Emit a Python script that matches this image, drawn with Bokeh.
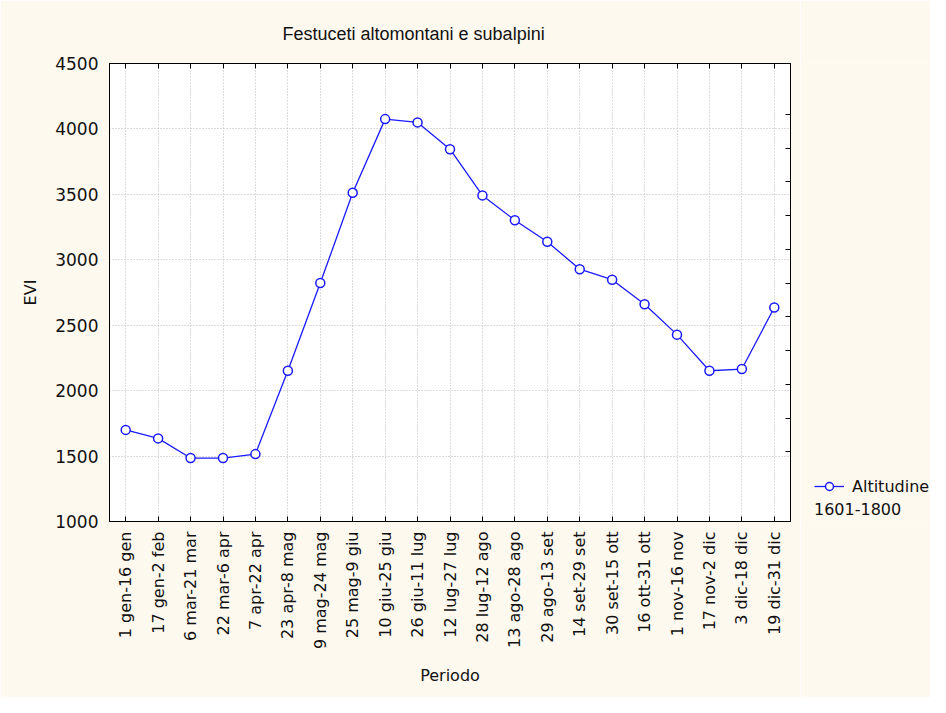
import math
from bokeh.plotting import figure
from bokeh.layouts import row
from bokeh.models import (ColumnDataSource, CategoricalAxis, LinearAxis, Range1d, FactorRange,
                          FixedTicker, Legend, LegendItem, Title, CustomJSTickFormatter)
from bokeh.embed import file_html
from bokeh.resources import INLINE

periods = ["1 gen-16 gen", "17 gen-2 feb", "6 mar-21 mar", "22 mar-6 apr", "7 apr-22 apr",
           "23 apr-8 mag", "9 mag-24 mag", "25 mag-9 giu", "10 giu-25 giu", "26 giu-11 lug",
           "12 lug-27 lug", "28 lug-12 ago", "13 ago-28 ago", "29 ago-13 set", "14 set-29 set",
           "30 set-15 ott", "16 ott-31 ott", "1 nov-16 nov", "17 nov-2 dic", "3 dic-18 dic",
           "19 dic-31 dic"]
evi = [1700, 1635, 1485, 1485, 1515, 2152, 2822, 3512, 4075, 4050, 3845, 3492, 3302,
       3138, 2928, 2848, 2660, 2428, 2152, 2165, 2635]
y_ticks = [1000, 1500, 2000, 2500, 3000, 3500, 4000, 4500]
right_ticks = [2, 3, 4, 5, 6, 7, 8, 9, 10, 11, 12]
series_label = "Altitudine"
series_sub = "1601-1800"
title_text = "Festuceti altomontani e subalpini"

FONT = "DejaVu Sans"
TFONT = "Liberation Sans"
BG = "#fef9ef"
BLUE = "#1a1aff"
TXT = "#111111"

src = ColumnDataSource(data=dict(x=periods, y=evi))
blank = CustomJSTickFormatter(code="return ''")

p = figure(width=800, height=697, x_range=periods, y_range=Range1d(1000, 4500),
           output_backend="svg", toolbar_location=None,
           min_border_left=109, min_border_right=10, min_border_top=63,
           min_border_bottom=176)
p.background_fill_color = "white"
p.border_fill_color = BG
p.outline_line_color = "black"
p.outline_line_width = 1

# title
p.title = Title(text=title_text, align="left", offset=173, text_font=TFONT,
                text_font_size="18px", text_font_style="normal", text_color=TXT,
                standoff=40)

# x axis (bottom)
xa = p.xaxis[0]
xa.major_label_orientation = math.pi / 2
xa.major_label_text_font = FONT
xa.major_label_text_font_size = "16px"
xa.major_label_text_color = TXT
xa.major_tick_in = 5
xa.major_tick_out = 0
xa.major_label_standoff = 10
xa.axis_line_color = "black"
xa.major_tick_line_color = "black"
xa.axis_label = "Periodo"
xa.axis_label_text_font = FONT
xa.axis_label_text_font_size = "16px"
xa.axis_label_text_font_style = "normal"
xa.axis_label_text_color = TXT
xa.axis_label_standoff = 14

# y axis (left)
ya = p.yaxis[0]
ya.ticker = FixedTicker(ticks=y_ticks)
ya.major_label_text_font = FONT
ya.major_label_text_font_size = "17px"
ya.major_label_text_color = TXT
ya.major_tick_in = 0
ya.major_tick_out = 0
ya.minor_tick_in = 0
ya.minor_tick_out = 0
ya.major_label_standoff = 11
ya.axis_label = "EVI"
ya.axis_label_text_font = FONT
ya.axis_label_text_font_size = "16px"
ya.axis_label_text_font_style = "normal"
ya.axis_label_text_color = TXT
ya.axis_label_standoff = 12

# top axis with inward ticks
ta = CategoricalAxis(major_tick_in=5, major_tick_out=0, formatter=blank,
                     major_label_standoff=0, axis_line_color="black",
                     major_tick_line_color="black")
p.add_layout(ta, "above")

# right axis with its own ticks
p.extra_y_ranges = {"r": Range1d(-0.06, 13.51)}
ra = LinearAxis(y_range_name="r", ticker=FixedTicker(ticks=right_ticks),
                major_tick_in=5, major_tick_out=0, minor_tick_in=0, minor_tick_out=0,
                formatter=blank, major_label_standoff=0,
                axis_line_color="black", major_tick_line_color="black")
p.add_layout(ra, "right")

# grid
p.xgrid.grid_line_color = "#b8b8b8"
p.xgrid.grid_line_dash = "1 2"
p.ygrid.grid_line_color = "#b8b8b8"
p.ygrid.grid_line_dash = "1 2"
p.ygrid.ticker = FixedTicker(ticks=y_ticks)

p.line("x", "y", source=src, line_color=BLUE, line_width=1.3)
p.scatter("x", "y", source=src, size=9, fill_color="white", line_color=BLUE,
          line_width=1.5)

# narrow side figure that carries the legend
q = figure(width=130, height=697, x_range=FactorRange(factors=periods),
           y_range=Range1d(0, 1), output_backend="svg", toolbar_location=None,
           x_axis_location=None, y_axis_location=None,
           min_border_left=0, min_border_right=0, min_border_top=0, min_border_bottom=0)
q.background_fill_color = BG
q.border_fill_color = BG
q.outline_line_color = None
q.xgrid.visible = False
q.ygrid.visible = False
l1 = q.line("x", "y", source=src, line_color=BLUE, line_width=1.3)
l2 = q.scatter("x", "y", source=src, size=9, fill_color="white", line_color=BLUE,
               line_width=1.5)

legend = Legend(items=[LegendItem(label=series_label, renderers=[l1, l2])],
                location=(14, 2), background_fill_alpha=0, border_line_alpha=0,
                padding=0, margin=0, spacing=0, glyph_width=30, glyph_height=20,
                label_standoff=8, label_text_font=FONT, label_text_font_size="16px",
                label_text_color=TXT,
                title=series_sub, title_location="below", title_standoff=4,
                title_text_font=FONT, title_text_font_size="16px",
                title_text_font_style="normal", title_text_color=TXT)
q.add_layout(legend, "center")

layout = row(p, q, spacing=0)
open("out.html", "w").write(file_html(layout, INLINE))
